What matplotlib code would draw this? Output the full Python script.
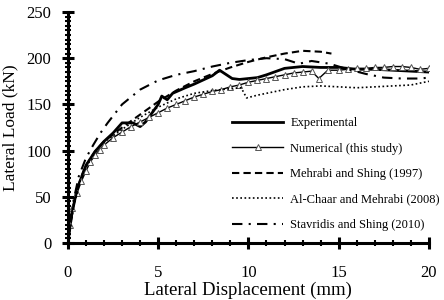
import matplotlib
matplotlib.use("Agg")
import matplotlib.pyplot as plt
from matplotlib.ticker import MultipleLocator

# Experimental
exp_x = [0, 0.2, 0.5, 1.0, 1.5, 2.0, 2.5, 3.0, 3.6, 4.0, 4.3, 5.0, 5.2, 5.5, 5.8, 6.5, 7.0, 8.0, 8.4,
         9.1, 9.5, 10.5, 11.0, 12.0, 13.0, 14.0, 15.0, 16.0, 17.0, 18.0, 19.0, 20.0]
exp_y = [0, 30, 58, 84, 99, 110, 119, 130, 130, 126, 131, 150, 159, 155, 162, 168, 172, 181, 187,
         178, 177, 179, 182, 189, 191, 190, 190, 188, 188, 187, 186, 185]

# Numerical (this study)
num_x = [0, 0.1, 0.25, 0.5, 0.75, 1.0, 1.25, 1.5, 1.75, 2.0, 2.5, 3.0, 3.5, 4.0, 4.5, 5.0, 5.5, 6.0,
         6.5, 7.0, 7.5, 8.0, 8.5, 9.0, 9.5, 10.0, 10.5, 11.0, 11.5, 12.0, 12.5, 13.0, 13.5, 13.9,
         14.4, 15.0, 15.5, 16.0, 16.5, 17.0, 17.5, 18.0, 18.5, 19.0, 19.5, 20.0]
num_y = [0, 20, 38, 54, 67, 78, 88, 95, 101, 106, 114, 120, 126, 131, 136, 141, 146, 150,
         154, 158, 161, 164, 166, 169, 171, 174, 176, 178, 180, 182, 184, 185, 186, 178,
         187, 187, 188, 189, 189, 190, 190, 191, 191, 190, 188, 189]

# Mehrabi and Shing (1997)
meh_x = [0, 0.3, 0.7, 1.0, 1.5, 2.0, 3.0, 4.0, 5.0, 6.0, 7.0, 8.0, 9.0, 10.0, 11.0, 12.0, 13.0, 14.0, 14.6]
meh_y = [0, 40, 70, 84, 99, 110, 125, 139, 153, 165, 175, 183, 190, 196, 201, 205, 208, 207, 205]

# Al-Chaar and Mehrabi (2008)
alc_x = [0, 0.3, 0.7, 1.0, 1.5, 2.0, 3.0, 4.0, 5.0, 6.0, 7.0, 8.0, 9.0, 9.6, 9.9, 10.5, 11.0, 12.0,
         13.0, 14.0, 15.0, 16.0, 17.0, 18.0, 19.0, 20.0]
alc_y = [0, 38, 68, 82, 98, 109, 123, 136, 147, 156, 162, 165, 167, 168, 157, 160, 162, 166,
         169, 170, 169, 168, 169, 170, 171, 175]

# Stavridis and Shing (2010)
sta_x = [0, 0.3, 0.6, 1.0, 1.4, 1.8, 2.2, 3.0, 4.0, 5.0, 6.0, 7.0, 8.0, 9.0, 10.0, 11.0, 12.0, 12.8,
         13.5, 14.5, 15.5, 16.5, 17.5, 18.5, 19.5, 20.0]
sta_y = [0, 45, 72, 92, 106, 119, 130, 150, 166, 176, 182, 186, 191, 195, 198, 200, 199, 194,
         197, 194, 188, 183, 179, 178, 178, 179]

plt.rcParams['font.family'] = ['Liberation Serif', 'DejaVu Serif']

fig = plt.figure(figsize=(4.44, 3.0), dpi=100)
ax = fig.add_axes([0.153, 0.19, 0.813, 0.77])

ax.plot(exp_x, exp_y, color='black', lw=2.0, label='Experimental')
ax.plot(num_x, num_y, color='black', lw=1.0, marker='^', markersize=4,
        markerfacecolor='white', markeredgecolor='#555555', markeredgewidth=0.7,
        label='Numerical (this study)')
ax.plot(meh_x, meh_y, color='black', lw=1.5, ls=(0, (3.5, 2)), label='Mehrabi and Shing (1997)')
ax.plot(alc_x, alc_y, color='black', lw=1.2, ls=(0, (1, 1.5)), label='Al-Chaar and Mehrabi (2008)')
ax.plot(sta_x, sta_y, color='black', lw=1.5, ls=(0, (5, 3, 1, 3)), label='Stavridis and Shing (2010)')

ax.set_xlim(0, 20)
ax.set_ylim(0, 250)
ax.xaxis.set_major_locator(MultipleLocator(5))
ax.xaxis.set_minor_locator(MultipleLocator(1))
ax.yaxis.set_major_locator(MultipleLocator(50))
ax.yaxis.set_minor_locator(MultipleLocator(5))

for s in ['top', 'right']:
    ax.spines[s].set_visible(False)
for s in ['left', 'bottom']:
    ax.spines[s].set_linewidth(2.2)

ax.tick_params(which='major', direction='inout', length=8, width=2.2, labelsize=12)
ax.tick_params(which='minor', direction='inout', length=4, width=1.5)
ax.tick_params(axis='x', which='major', pad=12)
ax.tick_params(axis='y', which='major', pad=8)

ax.set_xlabel('Lateral Displacement (mm)', fontsize=13.5, labelpad=0)
ax.set_ylabel('Lateral Load (kN)', fontsize=12.5, labelpad=6)

leg = ax.legend(loc='lower right', bbox_to_anchor=(1.03, 0.052), frameon=False, fontsize=9,
                handlelength=4.1, labelspacing=1.07, handletextpad=0.55,
                borderpad=0, borderaxespad=0)

fig.savefig('out.png', dpi=100)
